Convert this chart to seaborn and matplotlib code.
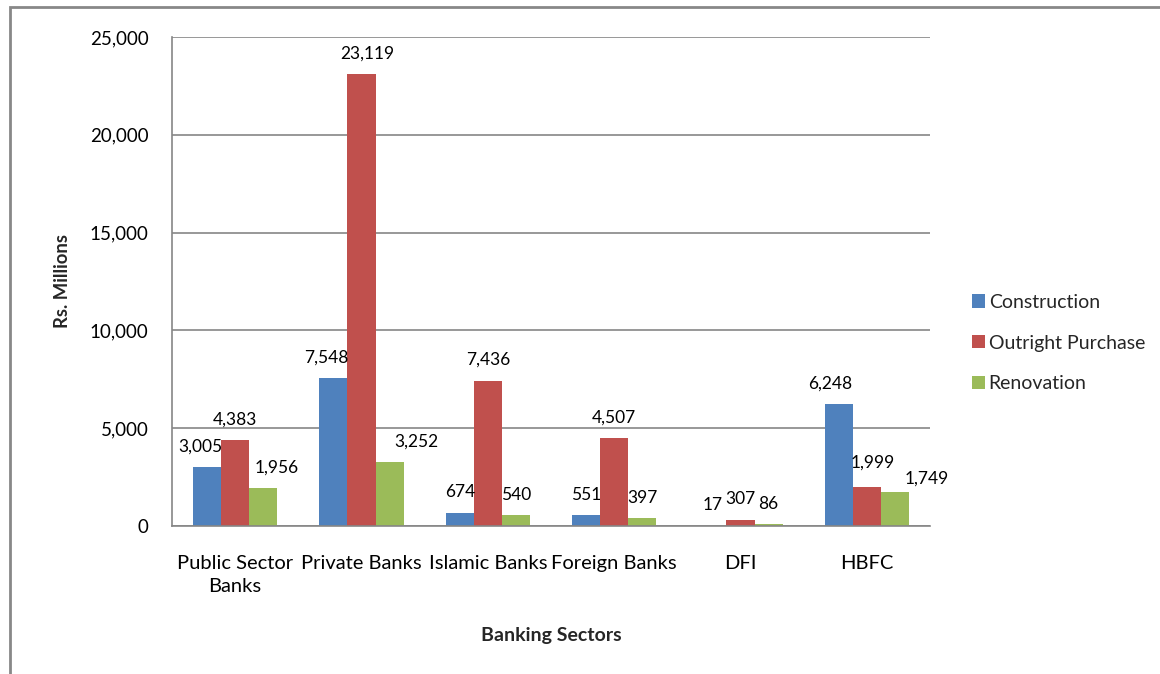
import matplotlib
matplotlib.use("Agg")
import matplotlib.pyplot as plt
from matplotlib.patches import Rectangle
from matplotlib.ticker import FuncFormatter, FixedLocator
import seaborn as sns
import pandas as pd

sectors = ["Public Sector\nBanks", "Private Banks", "Islamic Banks", "Foreign Banks", "DFI", "HBFC"]
construction = [3005, 7548, 674, 551, 17, 6248]
outright_purchase = [4383, 23119, 7436, 4507, 307, 1999]
renovation = [1956, 3252, 540, 397, 86, 1749]
series_names = ["Construction", "Outright Purchase", "Renovation"]
colors = ["#4F81BD", "#C0504D", "#9BBB59"]

rows = []
for name, vals in zip(series_names, [construction, outright_purchase, renovation]):
    for s, v in zip(sectors, vals):
        rows.append({"Sector": s, "Purpose": name, "Value": v})
df = pd.DataFrame(rows)

sns.set_theme(style="white")
plt.rcParams["font.family"] = ["Lato", "DejaVu Sans"]

fig = plt.figure(figsize=(11.6, 6.74), dpi=100)
ax = fig.add_axes([172 / 1160, 1 - 526 / 674, (930 - 172) / 1160, (526 - 37) / 674])

sns.barplot(data=df, x="Sector", y="Value", hue="Purpose", hue_order=series_names,
            order=sectors, palette=colors, width=0.665, saturation=1,
            edgecolor="none", linewidth=0, ax=ax)

# value labels above each bar; crowded labels are nudged sideways (dx, dy in points)
nudge = {(0, 0): (-5, 0), (2, 0): (10, 0), (0, 1): (-5, 0), (1, 1): (4, 0),
         (2, 1): (19, 0), (0, 5): (-6, 0), (1, 5): (4, 3), (2, 5): (23, -5)}
for si, cont in enumerate(ax.containers):
    for ci, bar in enumerate(cont):
        h = bar.get_height()
        dx, dy = nudge.get((si, ci), (0, 0))
        ax.annotate(f"{int(h):,}", (bar.get_x() + bar.get_width() / 2, h),
                    xytext=(dx, 9 + dy), textcoords="offset points",
                    ha="center", va="bottom", fontsize=12.5, color="black")

ax.set_xlim(-0.5, len(sectors) - 0.5)
ax.set_ylim(0, 25000)
ax.yaxis.set_major_locator(FixedLocator([0, 5000, 10000, 15000, 20000, 25000]))
ax.yaxis.set_major_formatter(FuncFormatter(lambda v, p: f"{int(v):,}"))
ax.grid(axis="y", color="#868686", linewidth=1.2)
ax.set_axisbelow(True)

# category labels centred, tick marks at the group boundaries
ax.set_xticks(range(len(sectors)))
ax.set_xticklabels(sectors, fontsize=14.5, linespacing=1.4)
ax.tick_params(axis="x", which="major", length=0, pad=21)
ax.set_xticks([i - 0.5 for i in range(len(sectors) + 1)], minor=True)
ax.tick_params(axis="x", which="minor", length=5, width=1.2, color="#868686", direction="out")
ax.tick_params(axis="y", which="major", length=5, width=1.2, color="#868686",
               direction="out", labelsize=13.5, pad=12)
ax.tick_params(axis="both", labelcolor="black")

for side in ["top", "right"]:
    ax.spines[side].set_visible(False)
for side in ["left", "bottom"]:
    ax.spines[side].set_color("#868686")
    ax.spines[side].set_linewidth(1.2)

ax.set_xlabel("Banking Sectors", fontsize=14, fontweight="bold", labelpad=23)
ax.set_ylabel("Rs. Millions", fontsize=13.3, fontweight="bold", labelpad=13)

handles, labels = ax.get_legend_handles_labels()
leg = ax.legend(handles, labels, loc="center left",
                bbox_to_anchor=((972 - 172) / 758, (526 - 343) / 489),
                frameon=False, fontsize=14, labelspacing=1.22, borderpad=0, borderaxespad=0,
                handlelength=0.68, handleheight=0.68, handletextpad=0.18)

# outer chart frame
fig.add_artist(Rectangle((10 / 1160, -0.2), 1.2, 1.2 - 7 / 674, transform=fig.transFigure,
                         fill=False, edgecolor="#888888", linewidth=2))

fig.savefig("out.png", dpi=100)
